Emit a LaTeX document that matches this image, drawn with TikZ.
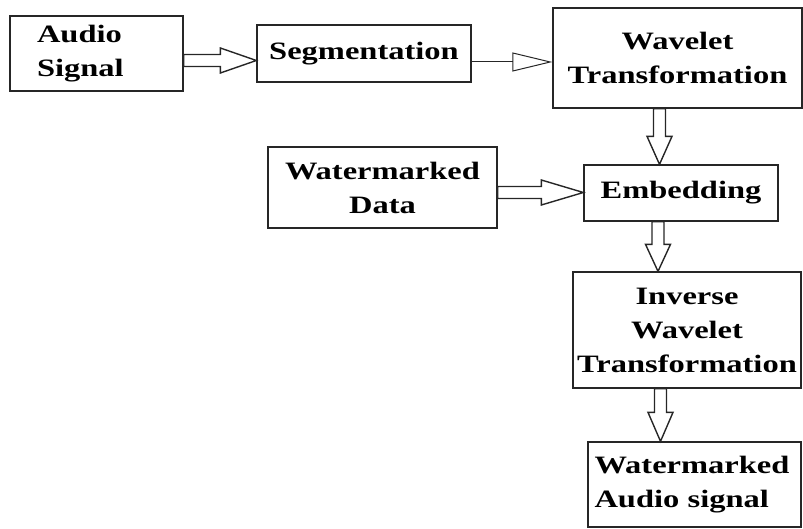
\documentclass[tikz,border=0pt]{standalone}
\usepackage{fontspec}
\setmainfont{Liberation Serif}[FakeStretch=1.3]
\usetikzlibrary{calc,arrows.meta}

\tikzset{
  box/.style={draw=black!85, line width=1.3pt, inner sep=0pt, align=center,
    font=\fontsize{25}{34}\selectfont\bfseries},
  head len/.code={\def\hlen{#1}},
  head len=30,
  blockarrow/.style={draw=black!85, line width=1.4pt, to path={
    let \p1=(\tikztostart), \p2=(\tikztotarget),
        \n1={veclen(\x2-\x1,\y2-\y1)},
        \p3=({(\x2-\x1)/\n1*1pt},{(\y2-\y1)/\n1*1pt}),
        \p4=({\x2-\hlen*\x3},{\y2-\hlen*\y3}) in
    ({\x1-6*\y3},{\y1+6*\x3}) -- ({\x4-6*\y3},{\y4+6*\x3})
    -- ({\x4-12.5*\y3},{\y4+12.5*\x3}) -- (\p2)
    -- ({\x4+12.5*\y3},{\y4-12.5*\x3}) -- ({\x4+6*\y3},{\y4-6*\x3})
    -- ({\x1+6*\y3},{\y1-6*\x3}) -- cycle}},
}

\begin{document}
\begin{tikzpicture}[x=1pt, y=-1pt]
  \useasboundingbox (0,0) rectangle (803,529);

  % boxes
  \node[box, minimum width=173pt, minimum height=75pt, text width=119pt, align=left] (audio) at (96.5,53.5) {Audio\\Signal};
  \node[box, minimum width=214pt, minimum height=57pt] (seg) at (364,53.5) {Segmentation};
  \node[box, minimum width=249pt, minimum height=100pt] (wavelet) at (677.5,58) {Wavelet\\Transformation};
  \node[box, minimum width=229pt, minimum height=81pt] (data) at (382.5,187.5) {Watermarked\\Data};
  \node[box, minimum width=194pt, minimum height=56pt] (embed) at (681,193) {Embedding};
  \node[box, minimum width=228pt, minimum height=116pt] (inverse) at (687,330) {Inverse\\Wavelet\\Transformation};
  \node[box, minimum width=213pt, minimum height=85pt, text width=200pt, align=left] (was) at (694.5,484.5) {Watermarked\\Audio signal};

  % arrows
  \coordinate (a1) at ([yshift=-7pt]audio.east);
  \draw[blockarrow, head len=36] (a1) to (a1 -| seg.west);
  \coordinate (a2) at ([yshift=-8.5pt]seg.east);
  \draw[line width=1pt, draw=black!85, -{Triangle[open, length=40pt, width=19pt]}] (a2) -- (a2 -| wavelet.west);
  \coordinate (a3) at ([xshift=-18pt]wavelet.south);
  \draw[blockarrow, head len=28] (a3) to (a3 |- embed.north);
  \coordinate (a4) at ([yshift=-5pt]data.east);
  \draw[blockarrow, head len=42] (a4) to (a4 -| embed.west);
  \coordinate (a5) at ([xshift=-23pt]embed.south);
  \draw[blockarrow, head len=27] (a5) to (a5 |- inverse.north);
  \coordinate (a6) at ([xshift=-26.5pt]inverse.south);
  \draw[blockarrow, head len=29] (a6) to (a6 |- was.north);
\end{tikzpicture}
\end{document}
